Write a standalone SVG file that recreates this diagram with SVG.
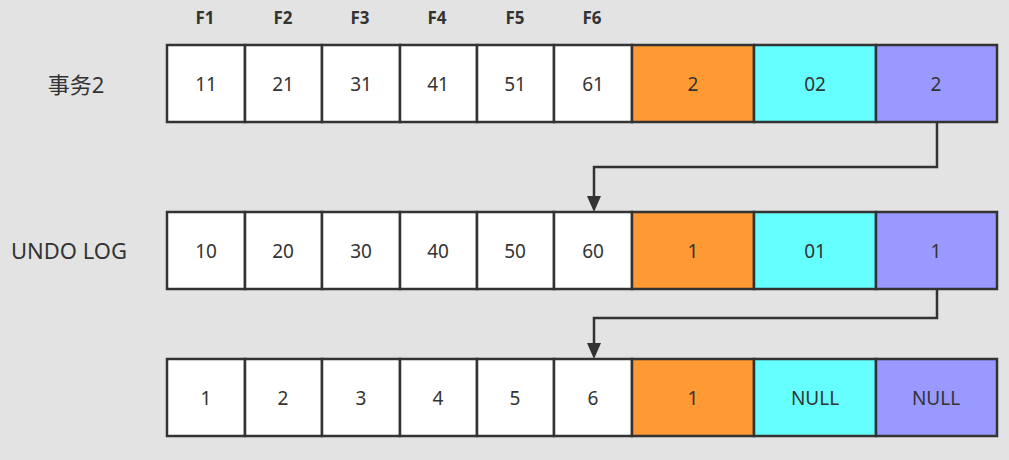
<svg xmlns="http://www.w3.org/2000/svg" width="1009" height="460" viewBox="0 0 1009 460">
<defs>
<style>
.c{stroke:#333;stroke-width:2.5}
.w{fill:#fff}.o{fill:#ff9933}.cy{fill:#66ffff}.p{fill:#9999ff}
text{font-family:"Noto Sans","Noto Sans CJK SC",sans-serif;fill:#333;text-anchor:middle;dominant-baseline:central}
.v{font-size:19px}
.h{font-size:17px;font-weight:bold}
.l{font-size:22px}
.e{fill:none;stroke:#333;stroke-width:2.5}
</style>
</defs>
<rect width="1009" height="460" fill="#e3e3e3"/>
<g id="headers">
<text class="h" x="205" y="17">F1</text><text class="h" x="283" y="17">F2</text><text class="h" x="360" y="17">F3</text><text class="h" x="437" y="17">F4</text><text class="h" x="515" y="17">F5</text><text class="h" x="592" y="17">F6</text>
</g>
<g id="row1">
<text class="l" x="76" y="84">事务2</text>
<rect class="c w" x="167" y="45" width="78" height="77"/><text class="v" x="206" y="84">11</text>
<rect class="c w" x="245" y="45" width="77" height="77"/><text class="v" x="283" y="84">21</text>
<rect class="c w" x="322" y="45" width="78" height="77"/><text class="v" x="361" y="84">31</text>
<rect class="c w" x="400" y="45" width="77" height="77"/><text class="v" x="438" y="84">41</text>
<rect class="c w" x="477" y="45" width="77" height="77"/><text class="v" x="515" y="84">51</text>
<rect class="c w" x="554" y="45" width="78" height="77"/><text class="v" x="593" y="84">61</text>
<rect class="c o" x="632" y="45" width="122" height="77"/><text class="v" x="693" y="84">2</text>
<rect class="c cy" x="754" y="45" width="122" height="77"/><text class="v" x="815" y="84">02</text>
<rect class="c p" x="876" y="45" width="121" height="77"/><text class="v" x="936" y="84">2</text>
</g>
<g id="row2">
<text class="l" x="69" y="250">UNDO LOG</text>
<rect class="c w" x="167" y="212" width="78" height="77"/><text class="v" x="206" y="251">10</text>
<rect class="c w" x="245" y="212" width="77" height="77"/><text class="v" x="283" y="251">20</text>
<rect class="c w" x="322" y="212" width="78" height="77"/><text class="v" x="361" y="251">30</text>
<rect class="c w" x="400" y="212" width="77" height="77"/><text class="v" x="438" y="251">40</text>
<rect class="c w" x="477" y="212" width="77" height="77"/><text class="v" x="515" y="251">50</text>
<rect class="c w" x="554" y="212" width="78" height="77"/><text class="v" x="593" y="251">60</text>
<rect class="c o" x="632" y="212" width="122" height="77"/><text class="v" x="693" y="251">1</text>
<rect class="c cy" x="754" y="212" width="122" height="77"/><text class="v" x="815" y="251">01</text>
<rect class="c p" x="876" y="212" width="121" height="77"/><text class="v" x="936" y="251">1</text>
</g>
<g id="row3">
<rect class="c w" x="167" y="359" width="78" height="77"/><text class="v" x="206" y="398">1</text>
<rect class="c w" x="245" y="359" width="77" height="77"/><text class="v" x="283" y="398">2</text>
<rect class="c w" x="322" y="359" width="78" height="77"/><text class="v" x="361" y="398">3</text>
<rect class="c w" x="400" y="359" width="77" height="77"/><text class="v" x="438" y="398">4</text>
<rect class="c w" x="477" y="359" width="77" height="77"/><text class="v" x="515" y="398">5</text>
<rect class="c w" x="554" y="359" width="78" height="77"/><text class="v" x="593" y="398">6</text>
<rect class="c o" x="632" y="359" width="122" height="77"/><text class="v" x="693" y="398">1</text>
<rect class="c cy" x="754" y="359" width="122" height="77"/><text class="v" x="815" y="398">NULL</text>
<rect class="c p" x="876" y="359" width="121" height="77"/><text class="v" x="936" y="398">NULL</text>
</g>
<g id="connectors">
<path class="e" d="M937,122 V167 H594 V200"/>
<path d="M587,196 L601,196 L594,212 Z" fill="#333"/>
<path class="e" d="M937,289 V318 H594 V347"/>
<path d="M587,343 L601,343 L594,359 Z" fill="#333"/>
</g>
</svg>
